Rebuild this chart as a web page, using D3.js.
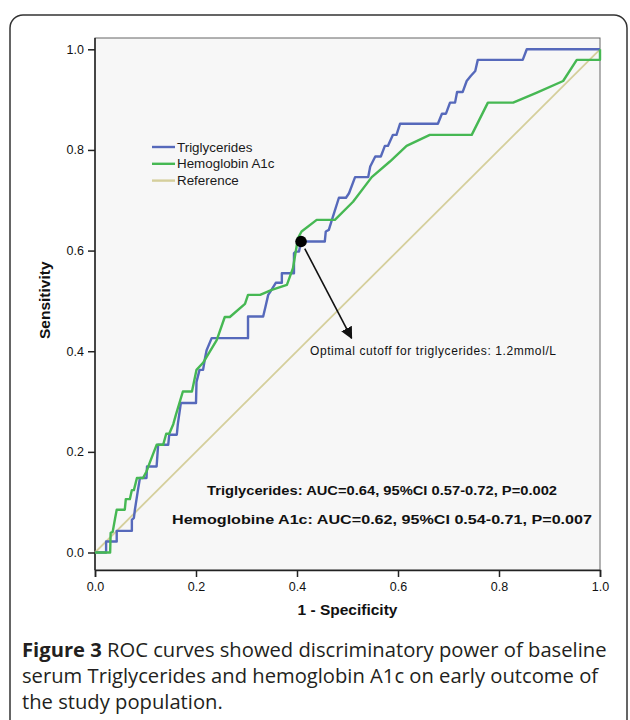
<!DOCTYPE html>
<html><head><meta charset="utf-8">
<script src="https://cdn.jsdelivr.net/npm/d3@7"></script>
<style>body{margin:0;background:#fff}</style></head>
<body>
<svg id="c" width="630" height="720"></svg>
<script>
// ---- data ----
const tickValues = [0, 0.2, 0.4, 0.6, 0.8, 1.0];
const tickLabels = ["0.0", "0.2", "0.4", "0.6", "0.8", "1.0"];
const seriesNames = ["Triglycerides", "Hemoglobin A1c", "Reference"];

// Triglycerides ROC (1 - specificity, sensitivity)
const tgFpr = [0,0.022,0.022,0.043,0.043,0.073,0.073,0.077,0.079,0.085,0.089,0.102,0.103,0.122,0.125,0.145,0.147,0.162,0.164,0.170,0.200,0.201,0.207,0.214,0.218,0.221,0.231,0.303,0.303,0.333,0.337,0.343,0.347,0.358,0.370,0.370,0.394,0.394,0.398,0.404,0.408,0.455,0.457,0.463,0.471,0.483,0.497,0.503,0.515,0.541,0.545,0.555,0.566,0.574,0.580,0.590,0.597,0.604,0.679,0.687,0.695,0.703,0.713,0.717,0.728,0.736,0.744,0.753,0.758,0.847,0.855,1.0];
const tgTpr = [0,0,0.022,0.022,0.043,0.043,0.065,0.069,0.085,0.124,0.148,0.148,0.171,0.171,0.214,0.214,0.234,0.234,0.255,0.297,0.297,0.339,0.363,0.363,0.387,0.402,0.426,0.426,0.469,0.469,0.486,0.512,0.518,0.536,0.536,0.555,0.555,0.595,0.598,0.598,0.618,0.618,0.638,0.641,0.667,0.705,0.705,0.714,0.746,0.746,0.767,0.787,0.787,0.808,0.808,0.830,0.830,0.852,0.852,0.872,0.872,0.894,0.894,0.915,0.915,0.937,0.947,0.957,0.979,0.979,1.0,1.0];

// Hemoglobin A1c ROC
const hbFpr = [0,0.030,0.031,0.035,0.040,0.043,0.059,0.061,0.069,0.073,0.077,0.083,0.095,0.102,0.109,0.122,0.135,0.141,0.147,0.155,0.160,0.174,0.192,0.201,0.214,0.241,0.257,0.267,0.297,0.303,0.327,0.350,0.380,0.392,0.402,0.409,0.439,0.475,0.511,0.548,0.584,0.617,0.663,0.746,0.778,0.828,0.875,0.927,0.954,1.0,1.0];
const hbTpr = [0,0,0.039,0.041,0.069,0.085,0.085,0.106,0.106,0.124,0.124,0.148,0.148,0.161,0.180,0.214,0.214,0.236,0.236,0.255,0.273,0.320,0.320,0.363,0.377,0.422,0.468,0.468,0.494,0.512,0.512,0.522,0.532,0.565,0.625,0.638,0.661,0.661,0.697,0.746,0.777,0.808,0.830,0.830,0.894,0.894,0.914,0.937,0.979,0.979,1.0];

const refFpr = [0, 1];
const refTpr = [0, 1];

const cutoff = {fpr: 0.408, tpr: 0.618, arrowFpr: 0.508, arrowTpr: 0.426,
  label: "Optimal cutoff for triglycerides: 1.2mmol/L"};
const aucLines = ["Triglycerides: AUC=0.64, 95%CI 0.57-0.72, P=0.002",
                  "Hemoglobine A1c: AUC=0.62, 95%CI 0.54-0.71, P=0.007"];
const captionBold = "Figure 3";
const captionLines = [" ROC curves showed discriminatory power of baseline",
  "serum Triglycerides and hemoglobin A1c on early outcome of",
  "the study population."];

const colors = ["#5669bb", "#46b853", "#d5cf9c"];

// ---- drawing ----
const svg = d3.select("#c");
svg.append("rect").attr("x", 10).attr("y", 15).attr("width", 617).attr("height", 740)
  .attr("rx", 13).attr("fill", "none").attr("stroke", "#333").attr("stroke-width", 1.5);

const x = d3.scaleLinear().domain([0, 1]).range([95, 600]);
const y = d3.scaleLinear().domain([0, 1]).range([552.5, 49.3]);
const frameTop = 38, frameBottom = 570;

svg.append("rect").attr("x", x(0)).attr("y", frameTop)
  .attr("width", x(1) - x(0)).attr("height", frameBottom - frameTop)
  .attr("fill", "#f7f7f7").attr("stroke", "#666").attr("stroke-width", 1);

const font = "'Liberation Sans', Arial, sans-serif";

// axes
const xAxis = svg.append("g").attr("transform", `translate(0,${frameBottom})`)
  .call(d3.axisBottom(x).tickValues(tickValues).tickFormat((d, i) => tickLabels[i]).tickSizeOuter(0).tickSize(7).tickPadding(5));
xAxis.select(".domain").attr("stroke", "#222").attr("stroke-width", 1.5);
xAxis.selectAll(".tick line").attr("stroke", "#222").attr("stroke-width", 1.5);
xAxis.selectAll("text").attr("font-family", font).attr("font-size", 12.5).attr("fill", "#111");

const yAxis = svg.append("g").attr("transform", `translate(${x(0)},0)`)
  .call(d3.axisLeft(y).tickValues(tickValues).tickFormat((d, i) => tickLabels[i]).tickSizeOuter(0).tickSize(7).tickPadding(4));
yAxis.select(".domain").remove();
yAxis.selectAll(".tick line").attr("stroke", "#222").attr("stroke-width", 1.5);
yAxis.selectAll("text").attr("font-family", font).attr("font-size", 12.5).attr("fill", "#111");
svg.append("line").attr("x1", x(0)).attr("x2", x(0)).attr("y1", frameTop).attr("y2", frameBottom)
  .attr("stroke", "#222").attr("stroke-width", 1.5);

// axis titles
svg.append("text").attr("x", (x(0) + x(1)) / 2).attr("y", 615).attr("text-anchor", "middle")
  .attr("font-family", font).attr("font-weight", "bold").attr("font-size", 15.5).attr("fill", "#111")
  .text("1 - Specificity");
svg.append("text").attr("transform", `translate(50,${(frameTop + y(0)) / 2 + 5}) rotate(-90)`)
  .attr("text-anchor", "middle")
  .attr("font-family", font).attr("font-weight", "bold").attr("font-size", 15.5).attr("fill", "#111")
  .text("Sensitivity");

// curves
const line = d3.line().x(d => x(d[0])).y(d => y(d[1]));
const series = [
  d3.zip(tgFpr, tgTpr),
  d3.zip(hbFpr, hbTpr),
  d3.zip(refFpr, refTpr)
];
svg.append("path").datum(series[2]).attr("d", line).attr("fill", "none")
  .attr("stroke", colors[2]).attr("stroke-width", 1.8);
svg.append("path").datum(series[0]).attr("d", line).attr("fill", "none")
  .attr("stroke", colors[0]).attr("stroke-width", 2.4).attr("stroke-linejoin", "round");
svg.append("path").datum(series[1]).attr("d", line).attr("fill", "none")
  .attr("stroke", colors[1]).attr("stroke-width", 2.4).attr("stroke-linejoin", "round");

// legend
const leg = svg.append("g");
seriesNames.forEach((n, i) => {
  const yy = 147 + i * 16.8;
  leg.append("line").attr("x1", 152).attr("x2", 175).attr("y1", yy).attr("y2", yy)
    .attr("stroke", colors[i]).attr("stroke-width", 2.4);
  leg.append("text").attr("x", 177).attr("y", yy + 4.6).attr("font-family", font)
    .attr("font-size", 13.4).attr("fill", "#1a1a1a").text(n);
});

// cutoff point + arrow
svg.append("defs").append("marker").attr("id", "ah").attr("viewBox", "0 0 10 10")
  .attr("refX", 9).attr("refY", 5).attr("markerWidth", 12).attr("markerHeight", 12)
  .attr("markerUnits", "userSpaceOnUse").attr("orient", "auto")
  .append("path").attr("d", "M0,0 L10,5 L0,10 Z").attr("fill", "#111");
const cx = x(cutoff.fpr), cy = y(cutoff.tpr);
const ax = x(cutoff.arrowFpr), ay = y(cutoff.arrowTpr);
const ang = Math.atan2(ay - cy, ax - cx);
svg.append("line").attr("x1", cx + 8 * Math.cos(ang)).attr("y1", cy + 8 * Math.sin(ang))
  .attr("x2", ax).attr("y2", ay).attr("stroke", "#111").attr("stroke-width", 1.6)
  .attr("marker-end", "url(#ah)");
svg.append("circle").attr("cx", cx).attr("cy", cy).attr("r", 5.8).attr("fill", "#000");
svg.append("text").attr("x", 310).attr("y", 355).attr("font-family", font).attr("font-size", 12)
  .attr("fill", "#111").attr("textLength", 246).attr("lengthAdjust", "spacing").text(cutoff.label);

// AUC text
svg.append("text").attr("x", 207).attr("y", 495).attr("font-family", font).attr("font-weight", "bold")
  .attr("font-size", 13).attr("fill", "#111").attr("textLength", 350).attr("lengthAdjust", "spacingAndGlyphs").text(aucLines[0]);
svg.append("text").attr("x", 172).attr("y", 524).attr("font-family", font).attr("font-weight", "bold")
  .attr("font-size", 13).attr("fill", "#111").attr("textLength", 420).attr("lengthAdjust", "spacingAndGlyphs").text(aucLines[1]);

// caption
const capFont = "'Open Sans', 'Noto Sans', sans-serif";
const cap = svg.append("g").attr("font-family", capFont).attr("fill", "#231f20");
const t1 = cap.append("text").attr("x", 22).attr("y", 657).attr("font-size", 18);
t1.append("tspan").attr("font-weight", "bold").text(captionBold);
t1.append("tspan").text(captionLines[0]);
const w = t1.node().getComputedTextLength();
const fs = 18 * 585 / w;
t1.attr("font-size", fs);
cap.append("text").attr("x", 22).attr("y", 683).attr("font-size", fs).text(captionLines[1]);
cap.append("text").attr("x", 22).attr("y", 709).attr("font-size", fs).text(captionLines[2]);
</script>
</body></html>
